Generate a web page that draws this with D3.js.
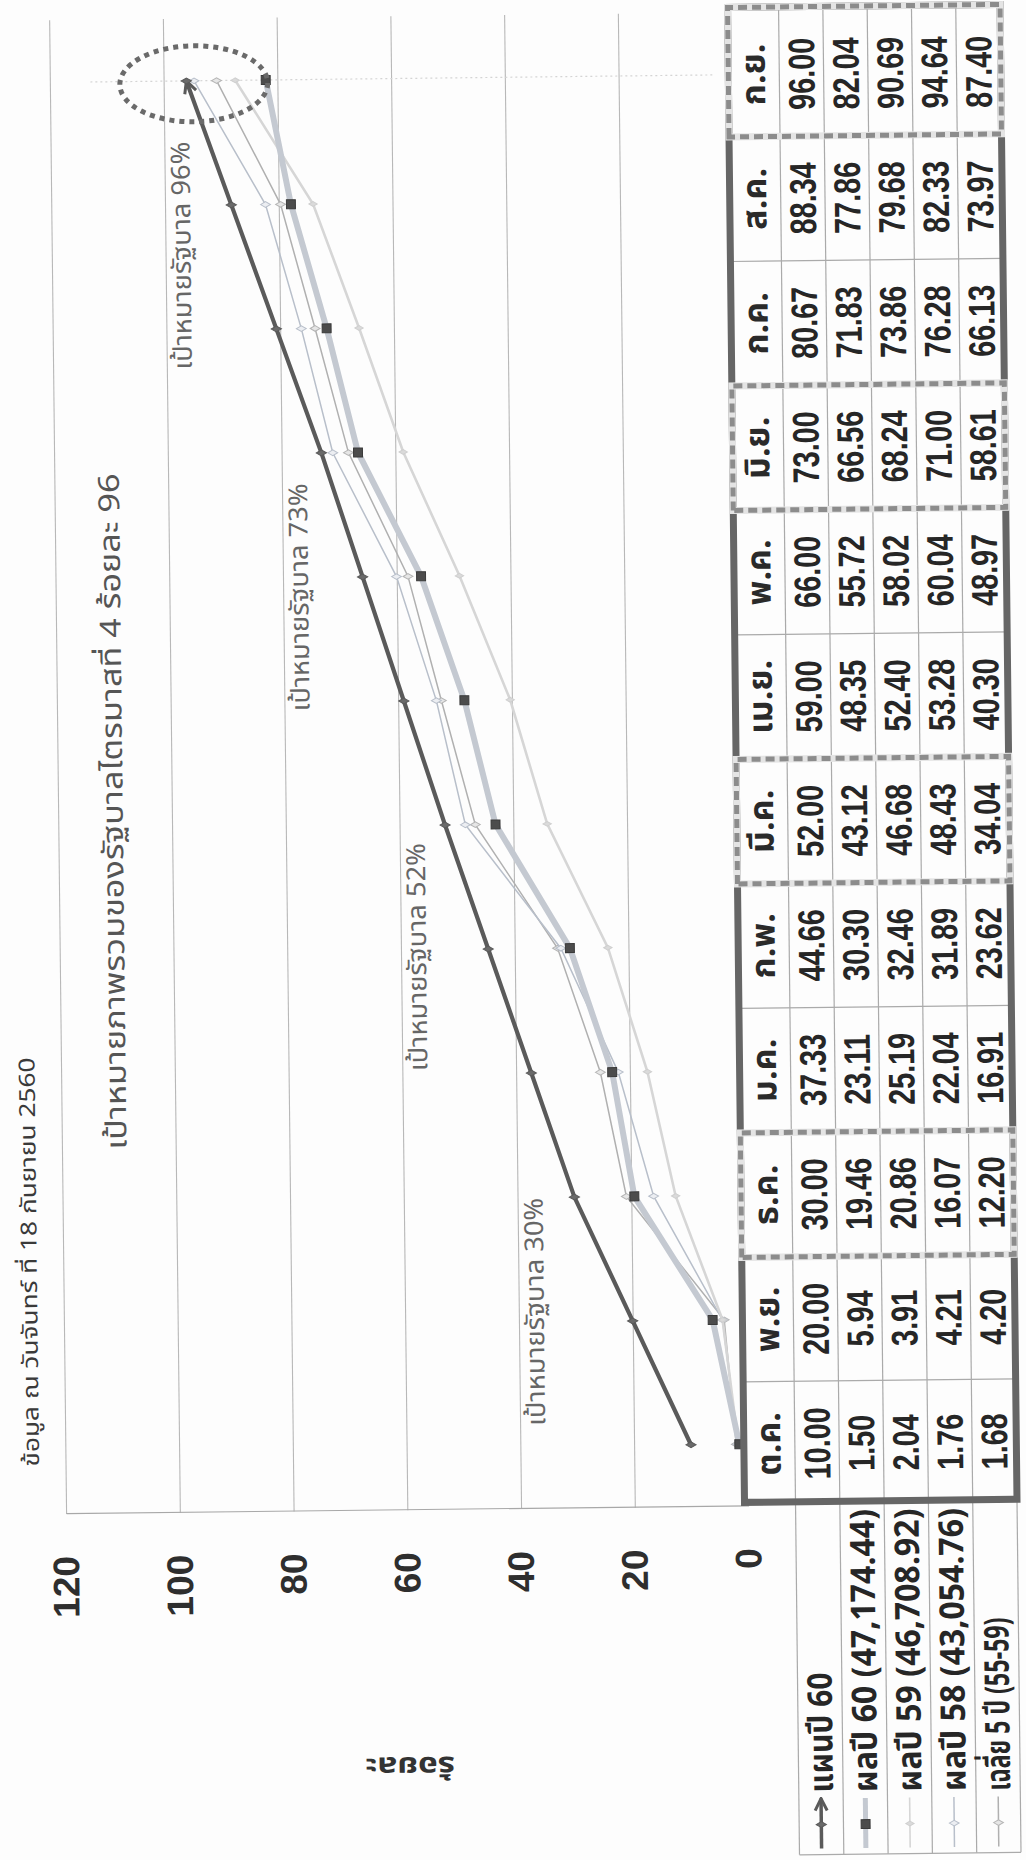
<!DOCTYPE html>
<html>
<head>
<meta charset="utf-8">
<script src="https://cdn.jsdelivr.net/npm/d3@7"></script>
<style>
    html, body { margin: 0; padding: 0; background: #fdfdfd; }
    svg { display: block; }
    text { font-family: "Noto Sans Thai", "Tahoma", "Loma", "Garuda", "Noto Sans", sans-serif; }
    .num { font-family: "Liberation Sans", Arial, sans-serif; font-weight: bold; }
</style>
</head>
<body>
<svg id="chart" width="1026" height="1860"></svg>
<script>

//  Chart data
const months = ['ต.ค.', 'พ.ย.', 'ธ.ค.', 'ม.ค.', 'ก.พ.', 'มี.ค.', 'เม.ย.', 'พ.ค.', 'มิ.ย.', 'ก.ค.', 'ส.ค.', 'ก.ย.'];
const plan60   = [10.00, 20.00, 30.00, 37.33, 44.66, 52.00, 59.00, 66.00, 73.00, 80.67, 88.34, 96.00];
const result60 = [1.50, 5.94, 19.46, 23.11, 30.30, 43.12, 48.35, 55.72, 66.56, 71.83, 77.86, 82.04];
const result59 = [2.04, 3.91, 20.86, 25.19, 32.46, 46.68, 52.40, 58.02, 68.24, 73.86, 79.68, 90.69];
const result58 = [1.76, 4.21, 16.07, 22.04, 31.89, 48.43, 53.28, 60.04, 71.00, 76.28, 82.33, 94.64];
const avg5y    = [1.68, 4.20, 12.20, 16.91, 23.62, 34.04, 40.30, 48.97, 58.61, 66.13, 73.97, 87.40];
const seriesNames = ['แผนปี 60', 'ผลปี 60 (47,174.44)', 'ผลปี 59 (46,708.92)', 'ผลปี 58 (43,054.76)', 'เฉลี่ย 5 ปี (55-59)'];
const yTicks = [0, 20, 40, 60, 80, 100, 120];
const quarterEnds = ['ธ.ค.', 'มี.ค.', 'มิ.ย.', 'ก.ย.'];
const goalLabels = ['เป้าหมายรัฐบาล 30%', 'เป้าหมายรัฐบาล 52%', 'เป้าหมายรัฐบาล 73%', 'เป้าหมายรัฐบาล 96%'];
const goalGrid = [40, 60, 80, 100];
const dateText = 'ข้อมูล ณ วันจันทร์ ที่ 18 กันยายน 2560';
const titleText = 'เป้าหมายภาพรวมของรัฐบาลไตรมาสที่ 4 ร้อยละ 96';
const yTitle = 'ร้อยละ';


//  The page is a scan of a landscape chart turned on its side (and a little skewed),
//  so everything is drawn in the landscape frame then rotated into place
const svg = d3.select('#chart');
const page = svg.append('g').attr('transform', 'rotate(-0.65 513 930)');
const g = page.append('g').attr('transform', 'translate(0,1860) rotate(-90)');

const plot = { left: 351, right: 1845 };
const table = { top: 738, head: 789, rowH: 44.3, left: 355, right: 1850 };
const legendLeft = 2;

const xScale = d3.scaleBand().domain(months).range([plot.left, plot.right]);
const bw = xScale.bandwidth();
const cx = m => xScale(m) + bw / 2;
const yScale = d3.scaleLinear().domain([0, 120]).range([742, 59.5]);

const defs = svg.append('defs');
defs.append('marker')
    .attr('id', 'arrow')
    .attr('viewBox', '0 0 16 16')
    .attr('refX', 14).attr('refY', 8)
    .attr('markerWidth', 16).attr('markerHeight', 16)
    .attr('markerUnits', 'userSpaceOnUse')
    .attr('orient', 'auto')
    .append('path')
    .attr('d', 'M2,2 L14,8 L2,14')
    .attr('fill', 'none')
    .attr('stroke', '#5a5a5a')
    .attr('stroke-width', 3);


//======================================
//  Grid + Y axis
//======================================
g.append('g')
    .attr('transform', `translate(${plot.left},0)`)
    .call(d3.axisLeft(yScale).tickValues(yTicks.filter(t => t > 0)).tickSize(-(plot.right - plot.left)).tickFormat(''))
    .call(s => s.select('.domain').remove())
    .selectAll('line')
    .attr('stroke', '#b8b8b8')
    .attr('stroke-width', 1.1);

const yAxis = g.append('g')
    .attr('transform', `translate(${plot.left},0)`)
    .call(d3.axisLeft(yScale).tickValues(yTicks).tickSize(0).tickPadding(42));
yAxis.select('.domain').attr('stroke', '#a8a8a8').attr('stroke-width', 1.1);
yAxis.selectAll('text')
    .attr('class', 'num')
    .attr('font-size', 37)
    .attr('fill', '#2e2e2e');

g.append('text')
    .attr('transform', `translate(104,${(yScale(0) + yScale(120)) / 2}) rotate(-90)`)
    .attr('text-anchor', 'middle')
    .attr('font-size', 28)
    .attr('font-weight', 'bold')
    .attr('fill', '#333')
    .attr('textLength', 90)
    .attr('lengthAdjust', 'spacingAndGlyphs')
    .text(yTitle);


//======================================
//  Titles
//======================================
g.append('text')
    .attr('x', 399).attr('y', 33)
    .attr('font-size', 22)
    .attr('fill', '#3a3a3a')
    .attr('textLength', 409)
    .attr('lengthAdjust', 'spacingAndGlyphs')
    .text(dateText);

g.append('text')
    .attr('x', 715).attr('y', 124)
    .attr('font-size', 29)
    .attr('fill', '#555')
    .attr('textLength', 676)
    .attr('lengthAdjust', 'spacingAndGlyphs')
    .text(titleText);

//  goal labels sit just under their gridline
const goalStartU = [434, 790, 1151, 1494];
g.selectAll('.goal')
    .data(goalLabels)
    .enter()
    .append('text')
    .attr('class', 'goal')
    .attr('x', (d, i) => goalStartU[i])
    .attr('y', (d, i) => yScale(goalGrid[i]) + 25)
    .attr('font-size', 26)
    .attr('fill', '#666')
    .attr('textLength', 228)
    .attr('lengthAdjust', 'spacingAndGlyphs')
    .text(d => d);

//  faint drop line at the last month
g.append('line')
    .attr('x1', cx('ก.ย.')).attr('x2', cx('ก.ย.'))
    .attr('y1', 100).attr('y2', 725)
    .attr('stroke', '#d4d4d4')
    .attr('stroke-width', 1.2)
    .attr('stroke-dasharray', '2,3');


//======================================
//  Series
//======================================
const series = [
    { values: result59, color: '#b0b0b0', width: 1.5, mk: d3.symbolDiamond, mkSize: 28, mkFill: '#e6e6e6', mkStroke: '#b5b5b5' },
    { values: result58, color: '#b8bfca', width: 1.5, mk: d3.symbolDiamond, mkSize: 28, mkFill: '#eceef2', mkStroke: '#b8bfca' },
    { values: avg5y,    color: '#d6d6d6', width: 2.6, mk: d3.symbolDiamond, mkSize: 20, mkFill: '#dadada', mkStroke: '#cfcfcf' },
    { values: result60, color: '#c4c9d1', width: 6,   mk: d3.symbolSquare,  mkSize: 80, mkFill: '#4c4c4c', mkStroke: '#3a3a3a' },
    { values: plan60,   color: '#5a5a5a', width: 4.2, mk: d3.symbolDiamond, mkSize: 30, mkFill: '#6a6a6a', mkStroke: '#5a5a5a', arrow: true }
];

const line = d3.line()
    .x((d, i) => cx(months[i]))
    .y(d => yScale(d));

series.forEach(s => {
    const path = g.append('path')
        .datum(s.values)
        .attr('d', line)
        .attr('fill', 'none')
        .attr('stroke', s.color)
        .attr('stroke-width', s.width)
        .attr('stroke-linecap', 'round');
    if (s.arrow) path.attr('marker-end', 'url(#arrow)');

    g.append('g').selectAll('path')
        .data(s.values)
        .enter()
        .append('path')
        .attr('d', d3.symbol().type(s.mk).size(s.mkSize))
        .attr('transform', (d, i) => `translate(${cx(months[i])},${yScale(d)})`)
        .attr('fill', s.mkFill)
        .attr('stroke', s.mkStroke)
        .attr('stroke-width', 1);
});

//  dotted ellipse round the September points
g.append('ellipse')
    .attr('cx', cx('ก.ย.') - 3)
    .attr('cy', yScale(94.7))
    .attr('rx', 38)
    .attr('ry', yScale(0) - yScale(13))
    .attr('fill', 'none')
    .attr('stroke', '#6a6a6a')
    .attr('stroke-width', 5)
    .attr('stroke-dasharray', '5,5');


//======================================
//  Data table + legend
//======================================
const rows = [plan60, result60, result59, result58, avg5y];
const rowTop = i => table.head + i * table.rowH;
const tableBottom = rowTop(rows.length);

const tg = g.append('g');

tg.append('rect')
    .attr('x', table.left).attr('y', table.top)
    .attr('width', table.right - table.left)
    .attr('height', tableBottom - table.top)
    .attr('fill', '#fdfdfd');

//  column separators
tg.selectAll('.col-line')
    .data(months.slice(1))
    .enter()
    .append('line')
    .attr('x1', m => xScale(m)).attr('x2', m => xScale(m))
    .attr('y1', table.top).attr('y2', tableBottom)
    .attr('stroke', '#aaa')
    .attr('stroke-width', 1.2);

//  row separators run on through the legend
tg.selectAll('.row-line')
    .data(d3.range(rows.length + 1))
    .enter()
    .append('line')
    .attr('x1', legendLeft)
    .attr('x2', table.right)
    .attr('y1', i => rowTop(i)).attr('y2', i => rowTop(i))
    .attr('stroke', '#aaa')
    .attr('stroke-width', 1.2);

tg.append('line')
    .attr('x1', legendLeft).attr('x2', legendLeft)
    .attr('y1', table.head).attr('y2', tableBottom)
    .attr('stroke', '#aaa')
    .attr('stroke-width', 1.2);

tg.append('rect')
    .attr('x', table.left).attr('y', table.top)
    .attr('width', table.right - table.left)
    .attr('height', tableBottom - table.top)
    .attr('fill', 'none')
    .attr('stroke', '#666')
    .attr('stroke-width', 7);

//  quarter-end columns boxed with a dashed border
tg.selectAll('.quarter')
    .data(quarterEnds)
    .enter()
    .append('rect')
    .attr('x', m => xScale(m))
    .attr('y', table.top)
    .attr('width', m => m === 'ก.ย.' ? table.right - xScale(m) : bw)
    .attr('height', tableBottom - table.top)
    .attr('fill', 'none')
    .attr('stroke', '#e4e4e4')
    .attr('stroke-width', 7);

tg.selectAll('.quarter-dash')
    .data(quarterEnds)
    .enter()
    .append('rect')
    .attr('x', m => xScale(m))
    .attr('y', table.top)
    .attr('width', m => m === 'ก.ย.' ? table.right - xScale(m) : bw)
    .attr('height', tableBottom - table.top)
    .attr('fill', 'none')
    .attr('stroke', '#8c8c8c')
    .attr('stroke-width', 5)
    .attr('stroke-dasharray', '9,5');

//  month headers
tg.selectAll('.month')
    .data(months)
    .enter()
    .append('text')
    .attr('x', m => cx(m))
    .attr('y', (table.top + table.head) / 2 + 11)
    .attr('text-anchor', 'middle')
    .attr('font-size', 34)
    .attr('font-weight', 'bold')
    .attr('fill', '#2a2a2a')
    .text(m => m);

//  values
rows.forEach((vals, r) => {
    tg.append('g').selectAll('text')
        .data(vals)
        .enter()
        .append('text')
        .attr('class', 'num')
        .attr('transform', (d, i) => `translate(${cx(months[i])},${rowTop(r) + table.rowH / 2 + 13}) scale(0.78,1)`)
        .attr('text-anchor', 'middle')
        .attr('font-size', 37)
        .attr('fill', '#262626')
        .text(d => d.toFixed(2));
});

//  legend keys + names
const legendTextLen = [120, 283, 283, 283, 173];
series.slice().reverse().forEach((s, r) => {
    const mid = rowTop(r) + table.rowH / 2;
    const key = tg.append('line')
        .attr('x1', 8).attr('x2', 58)
        .attr('y1', mid).attr('y2', mid)
        .attr('stroke', s.color)
        .attr('stroke-width', s.arrow ? 3.5 : Math.max(s.width - 1, 1.5));
    if (s.arrow) key.attr('marker-end', 'url(#arrow)');

    tg.append('path')
        .attr('d', d3.symbol().type(s.mk).size(s.mkSize))
        .attr('transform', `translate(32,${mid})`)
        .attr('fill', s.mkFill)
        .attr('stroke', s.mkStroke);

    tg.append('text')
        .attr('x', 64)
        .attr('y', mid + 12)
        .attr('font-size', 34)
        .attr('font-weight', 'bold')
        .attr('fill', '#262626')
        .attr('textLength', legendTextLen[r])
        .attr('lengthAdjust', 'spacingAndGlyphs')
        .text(seriesNames[r]);
});

</script>
</body>
</html>
